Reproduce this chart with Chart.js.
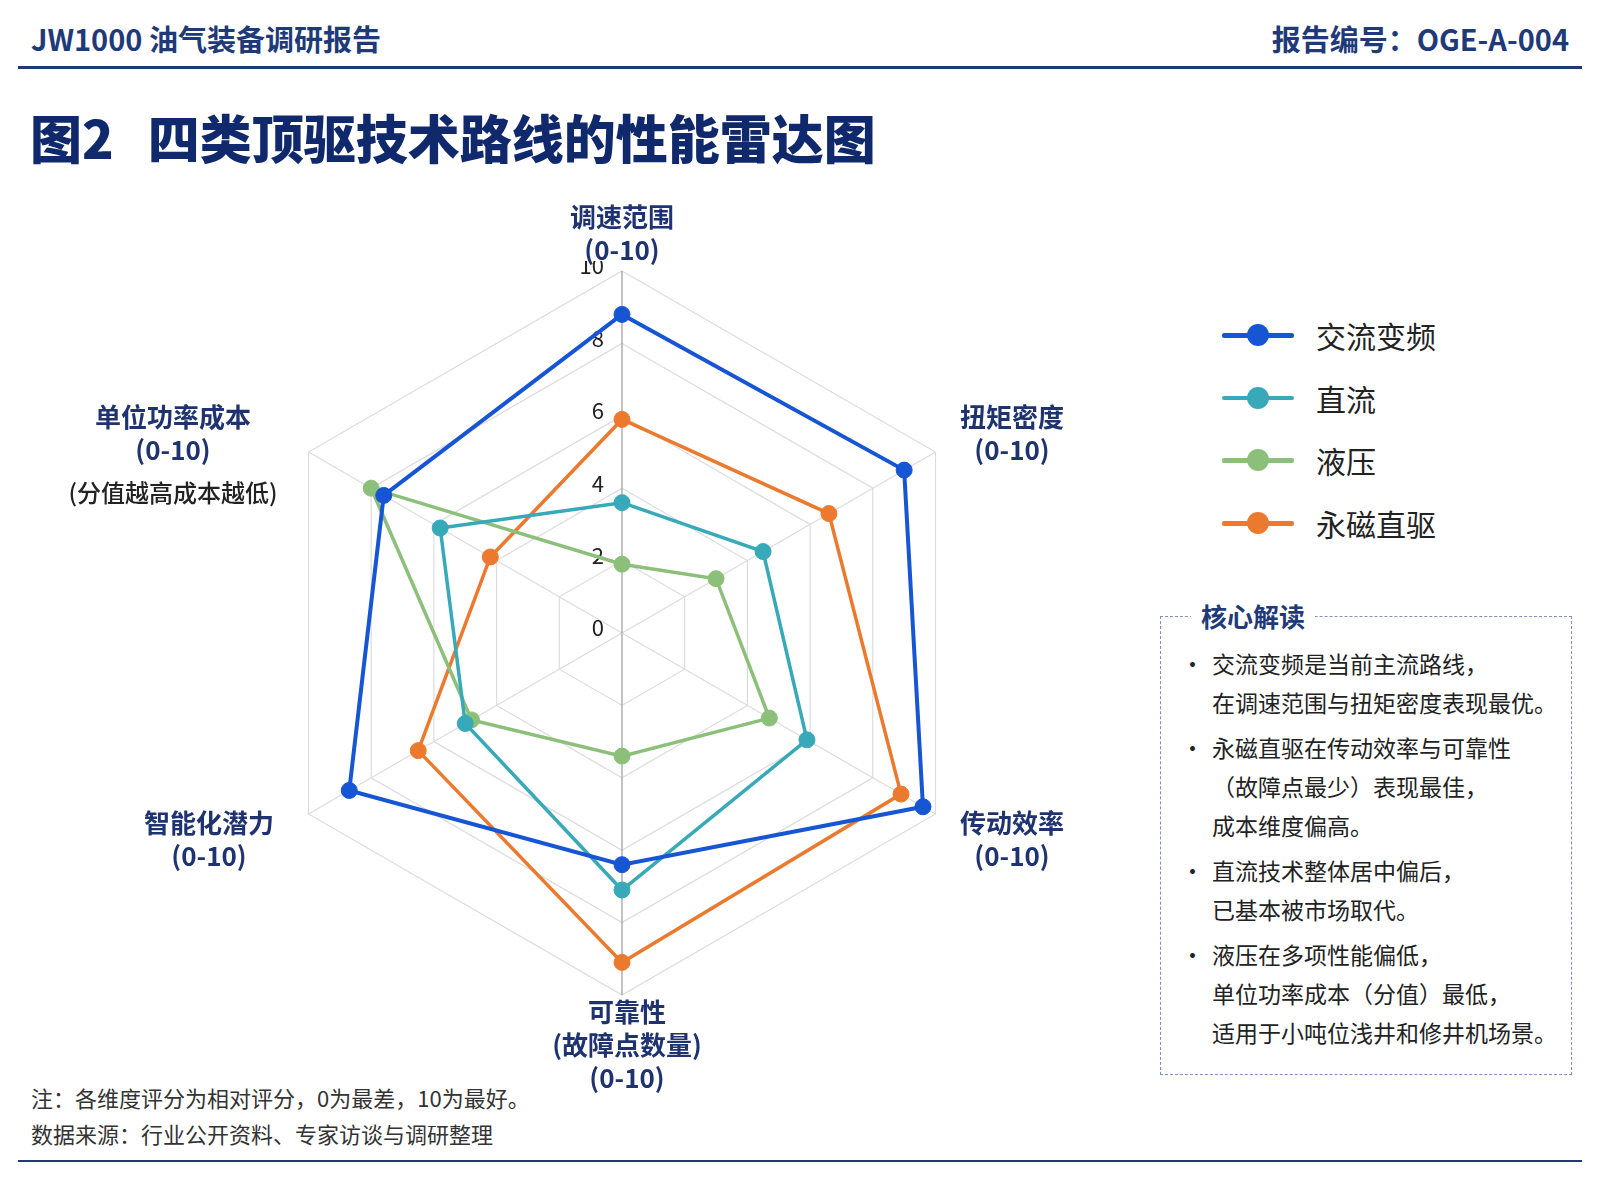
<!DOCTYPE html>
<html lang="zh-CN">
<head>
<meta charset="utf-8">
<title>图2 四类顶驱技术路线的性能雷达图</title>
<script src="https://cdn.jsdelivr.net/npm/chart.js@4.4.1/dist/chart.umd.min.js"></script>
<style>
  html, body { margin: 0; padding: 0; background: #fff; }
  body {
    width: 1600px; height: 1200px; position: relative; overflow: hidden;
    font-family: "Noto Sans CJK SC", "Noto Sans", sans-serif; color: #222;
  }
  .hdr { position: absolute; top: 18px; font-size: 29px; font-weight: 700; color: #1f3a78; line-height: 40px; white-space: nowrap; }
  .rule { position: absolute; left: 18px; width: 1564px; height: 3px; background: #1f3a78; }
  .title { position: absolute; left: 30px; top: 102px; font-size: 52px; font-weight: 900; color: #10296c; line-height: 70px; white-space: nowrap; }
  .title .gap { display: inline-block; width: 34px; }
  #wrap { position: absolute; left: 250px; top: 261px; width: 744px; height: 744px; }
  .axlab { position: absolute; transform: translateX(-50%); text-align: center; font-size: 26px; font-weight: 700; color: #1f3370; line-height: 33px; white-space: nowrap; }
  .axlab .sub { display: block; margin-top: 10px; font-weight: 500; color: #222; font-size: 24px; }
  #legend { position: absolute; left: 1222px; top: 313px; }
  .lg { height: 44px; margin-bottom: 18.7px; display: flex; align-items: center; font-size: 30px; color: #222; }
  .lg .sw { position: relative; width: 72px; height: 22px; margin-right: 22px; }
  .lg .sw i { position: absolute; left: 0; right: 0; top: 9px; height: 4.5px; border-radius: 2px; }
  .lg .sw b { position: absolute; left: 25px; top: 0; width: 22px; height: 22px; border-radius: 50%; }
  #box { position: absolute; left: 1160px; top: 616px; width: 410px; height: 457px; border: 1.3px dashed #7f90c2; }
  #box .bt { position: absolute; left: 30px; top: -21px; padding: 0 10px; background: #fff; font-size: 26px; font-weight: 700; color: #1f3a78; line-height: 40px; }
  #notes { position: absolute; left: 1181px; top: 644px; width: 390px; }
  .it { position: relative; padding-left: 31px; font-size: 23px; line-height: 39px; margin-bottom: 6px; color: #222; white-space: nowrap; }
  .it::before { content: "•"; position: absolute; left: 0; top: 0; }
  .foot { position: absolute; left: 31px; font-size: 22px; color: #333; line-height: 32px; white-space: nowrap; }
</style>
</head>
<body>
<div class="hdr" style="left:31px;">JW1000 油气装备调研报告</div>
<div class="hdr" style="right:31px;">报告编号：OGE-A-004</div>
<div class="rule" style="top:66px;"></div>
<div class="title">图2<span class="gap"></span>四类顶驱技术路线的性能雷达图</div>

<div id="wrap"><canvas id="radar" width="744" height="744"></canvas></div>

<div class="axlab" style="left:622px; top:199px;">调速范围<br>(0-10)</div>
<div class="axlab" style="left:1012px; top:399px;">扭矩密度<br>(0-10)</div>
<div class="axlab" style="left:1012px; top:805px;">传动效率<br>(0-10)</div>
<div class="axlab" style="left:627px; top:994px;">可靠性<br>(故障点数量)<br>(0-10)</div>
<div class="axlab" style="left:209px; top:805px;">智能化潜力<br>(0-10)</div>
<div class="axlab" style="left:173px; top:399px;">单位功率成本<br>(0-10)<span class="sub">(分值越高成本越低)</span></div>

<div id="legend"></div>

<div id="box"><div class="bt">核心解读</div></div>
<div id="notes">
  <div class="it">交流变频是当前主流路线，<br>在调速范围与扭矩密度表现最优。</div>
  <div class="it">永磁直驱在传动效率与可靠性<br>（故障点最少）表现最佳，<br>成本维度偏高。</div>
  <div class="it">直流技术整体居中偏后，<br>已基本被市场取代。</div>
  <div class="it">液压在多项性能偏低，<br>单位功率成本（分值）最低，<br>适用于小吨位浅井和修井机场景。</div>
</div>

<div class="foot" style="top:1081px;">注：各维度评分为相对评分，0为最差，10为最好。</div>
<div class="foot" style="top:1117px;">数据来源：行业公开资料、专家访谈与调研整理</div>
<div class="rule" style="top:1160px; height:2px;"></div>

<script>
// axes of the radar, clockwise from the top
const categories = ['调速范围', '扭矩密度', '传动效率', '可靠性', '智能化潜力', '单位功率成本'];
const seriesNames = ['交流变频', '直流', '液压', '永磁直驱'];
const seriesColors = ['#1655d4', '#38a9b9', '#8cc07a', '#ec7a2e'];

// scores 0-10
const acVfd     = [8.8, 9.0, 9.6, 6.4, 8.7, 7.6];
const dcDrive   = [3.6, 4.5, 5.9, 7.1, 5.0, 5.8];
const hydraulic = [1.9, 3.0, 4.7, 3.4, 4.8, 8.0];
const pmDirect  = [5.9, 6.6, 8.9, 9.1, 6.5, 4.2];

const tickValues = [0, 2, 4, 6, 8, 10];

const seriesData = [acVfd, dcDrive, hydraulic, pmDirect];

// legend on the right
const legendEl = document.getElementById('legend');
seriesNames.forEach((name, i) => {
    const row = document.createElement('div');
    row.className = 'lg';
    row.innerHTML = '<span class="sw"><i style="background:' + seriesColors[i] + '"></i><b style="background:' + seriesColors[i] + '"></b></span>' + name;
    legendEl.appendChild(row);
});

// tick numbers sit left of the vertical axis, under the lines
const tickLabels = {
    id: 'tickLabels',
    beforeDatasetsDraw(chart) {
        const r = chart.scales.r;
        const ctx = chart.ctx;
        ctx.save();
        ctx.font = '22px "Noto Sans CJK SC", "Noto Sans", sans-serif';
        ctx.fillStyle = '#222';
        ctx.textAlign = 'right';
        ctx.textBaseline = 'middle';
        tickValues.forEach(v => {
            const d = r.getDistanceFromCenterForValue(v);
            ctx.fillText(String(v), r.xCenter - 18, r.yCenter - d - 5);
        });
        ctx.restore();
    }
};

const ctx = document.getElementById('radar').getContext('2d');

const radarChart = new Chart(ctx, {
    type: 'radar',
    data: {
        labels: categories,
        datasets: seriesNames.map((name, i) => ({
            label: name,
            data: seriesData[i],
            borderColor: seriesColors[i],
            backgroundColor: seriesColors[i],
            pointBackgroundColor: seriesColors[i],
            pointBorderColor: seriesColors[i],
            borderWidth: i === 0 ? 4 : 3.5,
            pointRadius: 8,
            pointBorderWidth: 1,
            fill: false,
            tension: 0
        }))
    },
    options: {
        responsive: false,
        animation: false,
        devicePixelRatio: 1,
        layout: { padding: 10 },
        plugins: {
            legend: { display: false },
            tooltip: { enabled: false }
        },
        scales: {
            r: {
                min: 0,
                max: 10,
                ticks: { stepSize: 2, display: false },
                pointLabels: { display: false },
                grid: { color: '#dcdcdc', lineWidth: 1.2 },
                angleLines: {
                    color: (c) => (c.index === 0 || c.index === 3) ? '#9a9a9a' : '#dcdcdc',
                    lineWidth: 1.2
                }
            }
        }
    },
    plugins: [tickLabels]
});
</script>
</body>
</html>
